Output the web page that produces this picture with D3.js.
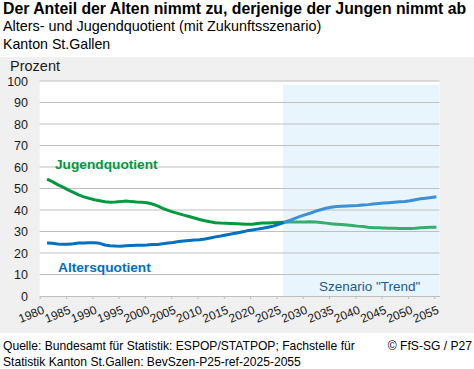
<!DOCTYPE html>
<html><head><meta charset="utf-8">
<script src="https://cdn.jsdelivr.net/npm/d3@7/dist/d3.min.js"></script>
<style>
html,body{margin:0;padding:0;background:#fff;}
svg{display:block;font-family:"Liberation Sans",Arial,sans-serif;}
</style></head>
<body><svg id="c" width="474" height="369"></svg>
<script>
const years = d3.range(1981, 2056);
const jugend = [54.4,53.2,51.8,50.6,49.4,48.2,47.0,46.1,45.4,44.8,
44.3,43.8,43.6,43.7,43.9,44.2,43.9,43.7,43.6,43.4,
42.8,41.9,40.8,39.8,39.0,38.3,37.6,37.0,36.3,35.6,
35.0,34.5,34.1,33.9,33.8,33.7,33.6,33.5,33.4,33.4,
33.7,33.9,34.0,34.1,34.2,34.3,34.4,34.4,34.4,34.4,
34.5,34.4,34.2,33.9,33.6,33.4,33.2,33.0,32.8,32.5,
32.3,32.0,31.8,31.7,31.6,31.5,31.5,31.4,31.4,31.4,
31.5,31.7,31.9,32.0,32.0];
const alters = [24.6,24.5,24.2,24.1,24.1,24.3,24.6,24.7,24.8,24.8,
24.5,23.7,23.4,23.2,23.1,23.4,23.5,23.6,23.6,23.7,
23.9,24.0,24.3,24.6,24.9,25.3,25.6,25.8,26.0,26.2,
26.5,27.0,27.5,27.9,28.4,28.8,29.3,29.8,30.3,30.7,
31.1,31.5,32.0,32.5,33.3,34.2,35.1,36.0,36.9,37.7,
38.5,39.4,40.1,40.8,41.3,41.6,41.8,41.9,42.0,42.1,
42.3,42.5,42.8,43.0,43.2,43.4,43.6,43.8,44.0,44.3,
44.8,45.2,45.5,45.8,46.2];
const scenarioStart = 2026;
const xTicks = d3.range(1980, 2056, 5);
const yTicks = d3.range(0, 101, 10);

const svg = d3.select("#c");
const x = d3.scaleLinear().domain([1980, 2056]).range([39.7, 439.5]);
const y = d3.scaleLinear().domain([0, 100]).range([296, 81]);

svg.append("rect").attr("x",0).attr("y",57).attr("width",474).attr("height",276).attr("fill","#f0f0f0");
svg.append("rect").attr("x",x(1980)).attr("y",y(100)).attr("width",x(2056)-x(1980)).attr("height",y(0)-y(100)).attr("fill","#fff");
svg.append("rect").attr("x",x(scenarioStart+0.25)).attr("y",y(98.3)).attr("width",x(2056)-x(scenarioStart+0.25)).attr("height",y(0)-y(98.3)).attr("fill","#e8f5fd");

svg.append("g").selectAll("line").data(yTicks.filter(d=>d>0)).join("line")
  .attr("x1",x(1980)).attr("x2",x(2056)).attr("y1",d=>y(d)).attr("y2",d=>y(d))
  .attr("stroke","#bfbfbf").attr("stroke-width",1);

svg.append("g").selectAll("text").data(yTicks).join("text")
  .attr("x",28).attr("y",d=>y(d)+4.5).attr("text-anchor","end")
  .attr("font-size",12.5).attr("fill","#1a1a1a").text(d=>d);

const xa = svg.append("g").attr("transform",`translate(0,${y(0)})`)
  .call(d3.axisBottom(x).tickValues(xTicks).tickFormat(d3.format("d")).tickSize(3).tickSizeOuter(0));
xa.select(".domain").attr("stroke","#bfbfbf");
xa.selectAll(".tick line").attr("stroke","#bfbfbf");
xa.selectAll(".tick text").attr("font-size",12).attr("fill","#1a1a1a")
  .attr("font-family","Liberation Sans, Arial, sans-serif")
  .attr("text-anchor","end").attr("dy",null).attr("y",0)
  .attr("transform","translate(5,17) rotate(-22)");

const pts = (arr)=>years.map((yr,i)=>({yr,v:arr[i]}));
const line = d3.line().x(d=>x(d.yr+0.4)).y(d=>y(d.v));
function draw(arr, colHist, colScen){
  const p = pts(arr);
  svg.append("path").datum(p.filter(d=>d.yr<=scenarioStart)).attr("d",line)
    .attr("fill","none").attr("stroke",colHist).attr("stroke-width",3).attr("stroke-linejoin","round");
  svg.append("path").datum(p.filter(d=>d.yr>=scenarioStart)).attr("d",line)
    .attr("fill","none").attr("stroke",colScen).attr("stroke-width",3).attr("stroke-linejoin","round");
}
draw(jugend, "#009a3e", "#36ad6a");
draw(alters, "#0070c0", "#3b90d7");

svg.append("text").attr("x",55).attr("y",169).attr("font-size",13.7).attr("font-weight","bold").attr("fill","#009a3e").text("Jugendquotient");
svg.append("text").attr("x",58).attr("y",272).attr("font-size",13.7).attr("font-weight","bold").attr("fill","#0070c0").text("Altersquotient");
svg.append("text").attr("x",319).attr("y",291).attr("font-size",13.5).attr("fill","#1d5a88").text('Szenario "Trend"');

svg.append("text").attr("x",10).attr("y",71).attr("font-size",14.5).attr("fill","#1a1a1a").text("Prozent");

svg.append("text").attr("x",3).attr("y",14).attr("font-size",15.8).attr("font-weight","bold").attr("fill","#000").text("Der Anteil der Alten nimmt zu, derjenige der Jungen nimmt ab");
svg.append("text").attr("x",3).attr("y",31).attr("font-size",14.4).attr("fill","#000").text("Alters- und Jugendquotient (mit Zukunftsszenario)");
svg.append("text").attr("x",3).attr("y",49).attr("font-size",14.2).attr("fill","#000").text("Kanton St.Gallen");

svg.append("text").attr("x",3).attr("y",350).attr("font-size",12.1).attr("fill","#000").text("Quelle: Bundesamt für Statistik: ESPOP/STATPOP; Fachstelle für");
svg.append("text").attr("x",3).attr("y",366).attr("font-size",12.1).attr("fill","#000").text("Statistik Kanton St.Gallen: BevSzen-P25-ref-2025-2055");
svg.append("text").attr("x",472).attr("y",350).attr("text-anchor","end").attr("font-size",12.1).attr("fill","#000").text("© FfS-SG / P27");
</script></body></html>
